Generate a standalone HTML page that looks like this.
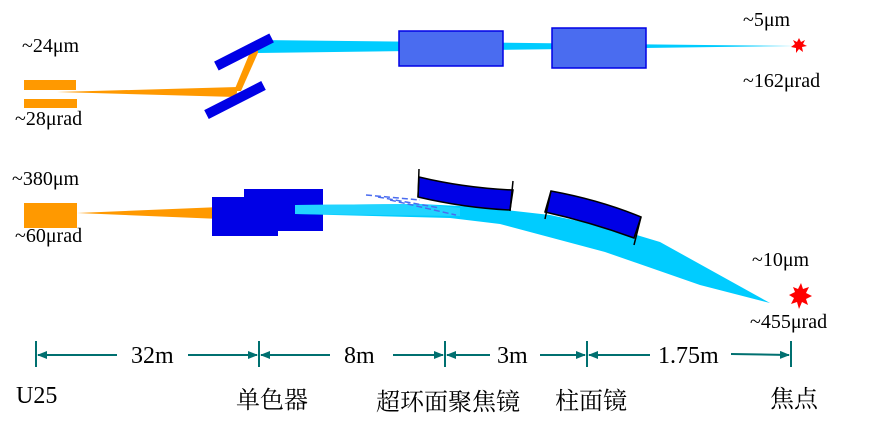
<!DOCTYPE html>
<html><head><meta charset="utf-8"><style>
html,body{margin:0;padding:0;background:#fff;}
svg{display:block;font-family:"Liberation Serif","Noto Serif CJK SC",serif;}
</style></head><body>
<svg width="870" height="429" viewBox="0 0 870 429" xmlns="http://www.w3.org/2000/svg">
<defs>
<marker id="ar" markerWidth="10" markerHeight="8" refX="9" refY="4" orient="auto" markerUnits="userSpaceOnUse"><path d="M0,0 L10,4 L0,8 z" fill="#007070"/></marker>
</defs>
<!-- top row -->
<rect x="24" y="80" width="52" height="10" fill="#ff9900"/>
<rect x="24" y="99" width="53" height="9" fill="#ff9900"/>
<polygon points="57,92 238,87 236,97" fill="#ff9900"/>
<polygon points="234,91 253,45 261,46 241,91" fill="#ff9900"/>
<polygon points="258,40 795,46 258,53" fill="#00ccff"/>
<rect x="-31" y="-5" width="62" height="10" fill="#0000e6" transform="translate(244,52) rotate(-27)"/>
<rect x="-32" y="-5" width="64" height="10" fill="#0000e6" transform="translate(235,100) rotate(-27)"/>
<rect x="399" y="31" width="104" height="35" fill="#4a6cf0" stroke="#0000e6" stroke-width="1.5"/>
<rect x="552" y="28" width="94" height="40" fill="#4a6cf0" stroke="#0000e6" stroke-width="1.5"/>
<polygon points="799,38 801,42 805,40 803,44 807,46 802,47 803,52 799,49 796,53 796,48 791,47 795,44 793,40 797,42" fill="#ff0000"/>
<g font-size="20" fill="#000">
<text x="22" y="52">~24μm</text>
<text x="15" y="125">~28μrad</text>
<text x="743" y="26">~5μm</text>
<text x="743" y="87">~162μrad</text>
</g>
<!-- bottom row -->
<rect x="24" y="203" width="53" height="25" fill="#ff9900"/>
<polygon points="77,213 245,206 245,220" fill="#ff9900"/>
<rect x="212" y="197" width="66" height="39" fill="#0000e6"/>
<rect x="244" y="189" width="79" height="42" fill="#0000e6"/>
<polygon points="295,205 420,204 480,207 550,215 620,230 660,242 770,303 700,285 605,252 500,224 450,218 295,214" fill="#00ccff"/>
<polygon points="295,205 420,204 460,208 460,216 295,214" fill="#22d4ff"/>
<g stroke="#4a6cf0" stroke-width="1.5" stroke-dasharray="6,3" fill="none">
<path d="M366,195 L420,200"/><path d="M378,197 L440,208"/><path d="M390,200 L456,215"/>
</g>
<path d="M419,177 Q465,188 513,190 L510,210 Q465,208 418,197 Z" fill="#0000e6" stroke="#000" stroke-width="1.5"/>
<path d="M419,169 L418,197 M513,181 L510,211" stroke="#000" stroke-width="1.5"/>
<path d="M551,191 Q600,200 641,217 L634,238 Q590,222 545,212 Z" fill="#0000e6" stroke="#000" stroke-width="1.5"/>
<path d="M551,191 L545,219 M641,217 L634,245" stroke="#000" stroke-width="1.5"/>
<polygon points="801,283 803,289 809,287 806,293 812,296 806,299 808,305 802,302 799,309 797,302 791,304 794,298 789,295 795,292 793,287 798,289" fill="#ff0000"/>
<g font-size="20" fill="#000">
<text x="12" y="185">~380μm</text>
<text x="15" y="242">~60μrad</text>
<text x="752" y="266">~10μm</text>
<text x="750" y="328">~455μrad</text>
</g>
<!-- dimension line -->
<g stroke="#007070" stroke-width="2" fill="none">
<path d="M36,341 V367 M259,341 V367 M445,341 V367 M587,341 V367 M791,341 V367"/>
<path d="M117,355 H38" marker-end="url(#ar)"/>
<path d="M188,355 H257" marker-end="url(#ar)"/>
<path d="M330,355 H261" marker-end="url(#ar)"/>
<path d="M393,355 H443" marker-end="url(#ar)"/>
<path d="M490,355 H447" marker-end="url(#ar)"/>
<path d="M540,355 H585" marker-end="url(#ar)"/>
<path d="M650,355 H589" marker-end="url(#ar)"/>
<path d="M731,354 L789,355" marker-end="url(#ar)"/>
</g>
<g font-size="24" fill="#000">
<text x="131" y="363">32m</text>
<text x="344" y="363">8m</text>
<text x="497" y="363">3m</text>
<text x="658" y="363">1.75m</text>
<text x="16" y="403">U25</text>
<text x="236" y="408">单色器</text>
<text x="376" y="410">超环面聚焦镜</text>
<text x="555" y="409">柱面镜</text>
<text x="770" y="407">焦点</text>
</g>
</svg>
</body></html>
